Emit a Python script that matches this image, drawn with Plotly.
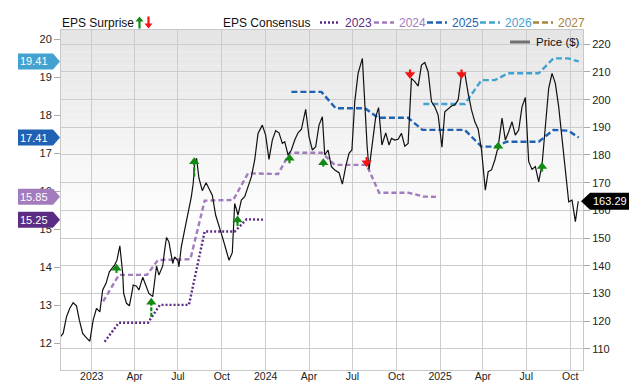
import plotly.graph_objects as go

# ---------------- data ----------------
price_dates = ["2022-10-27","2022-11-02","2022-11-09","2022-11-16","2022-11-23","2022-11-30","2022-12-06","2022-12-13","2022-12-21","2022-12-28",
"2023-01-04","2023-01-11","2023-01-18","2023-01-24","2023-01-31","2023-02-07","2023-02-14","2023-02-18","2023-02-23","2023-03-01",
"2023-03-07","2023-03-09","2023-03-15","2023-03-21","2023-03-26","2023-03-29","2023-04-05","2023-04-10","2023-04-18","2023-04-25",
"2023-05-01","2023-05-09","2023-05-13","2023-05-17","2023-05-22","2023-05-30","2023-06-03","2023-06-07","2023-06-12","2023-06-20",
"2023-06-24","2023-07-01","2023-07-03","2023-07-08","2023-07-15","2023-07-22","2023-07-29","2023-08-02","2023-08-05","2023-08-09",
"2023-08-14","2023-08-21","2023-08-29","2023-09-04","2023-09-11","2023-09-18","2023-09-25","2023-10-02","2023-10-09","2023-10-16",
"2023-10-23","2023-10-28","2023-11-04","2023-11-11","2023-11-18","2023-11-25","2023-12-02","2023-12-09","2023-12-16","2023-12-25",
"2024-01-01","2024-01-08","2024-01-15","2024-01-22","2024-01-29","2024-02-05","2024-02-10","2024-02-17","2024-02-24","2024-03-02",
"2024-03-09","2024-03-16","2024-03-25","2024-04-01","2024-04-08","2024-04-15","2024-04-22","2024-04-29","2024-05-04","2024-05-11",
"2024-05-18","2024-05-25","2024-06-03","2024-06-10","2024-06-17","2024-06-24","2024-06-30","2024-07-06","2024-07-13","2024-07-22",
"2024-07-27","2024-08-01","2024-08-05","2024-08-12","2024-08-19","2024-08-25","2024-09-01","2024-09-09","2024-09-16","2024-09-21",
"2024-09-28","2024-10-05","2024-10-12","2024-10-19","2024-10-26","2024-11-02","2024-11-09","2024-11-16","2024-11-23","2024-11-30",
"2024-12-07","2024-12-14","2024-12-21","2024-12-28","2025-01-05","2025-01-11","2025-01-18","2025-01-25","2025-02-01","2025-02-08",
"2025-02-15","2025-02-22","2025-03-01","2025-03-08","2025-03-15","2025-03-22","2025-03-29","2025-04-06","2025-04-12","2025-04-19",
"2025-04-26","2025-05-03","2025-05-11","2025-05-18","2025-05-25","2025-06-01","2025-06-08","2025-06-15","2025-06-22","2025-06-29",
"2025-07-06","2025-07-13","2025-07-20","2025-07-27","2025-08-03","2025-08-10","2025-08-17","2025-08-24","2025-08-31","2025-09-07",
"2025-09-14","2025-09-21","2025-09-28","2025-10-05","2025-10-12","2025-10-18"]
price_values = [114.3,115.5,121.5,124.6,126.6,125.5,120.3,115.5,113.9,112.7,
120.3,124.6,123.3,131.2,133.6,137.8,139.4,140.2,142.0,147.2,
137.2,130.0,126.4,125.5,130.0,133.0,132.6,131.2,135.8,132.4,
130.0,128.8,135.4,139.9,136.6,139.9,145.6,150.2,148.6,140.8,
143.2,141.8,139.6,146.8,152.9,158.3,164.9,169.8,177.0,178.8,
171.6,167.1,170.0,167.9,165.5,158.3,154.7,150.5,146.3,142.0,
144.7,162.5,158.3,163.7,164.9,168.5,172.1,178.2,187.8,190.8,
187.2,178.4,185.4,188.8,188.0,184.2,184.8,180.0,181.8,185.4,
188.0,189.3,196.5,186.6,181.8,183.0,190.8,193.8,180.0,181.8,
175.8,174.6,173.6,169.5,175.8,180.6,181.8,199.3,209.5,214.9,
197.4,183.0,174.8,185.4,193.8,197.1,183.6,188.0,183.6,186.0,
185.4,185.7,187.8,183.2,184.2,207.7,206.5,204.9,212.5,213.4,
210.1,199.3,197.4,194.4,182.8,195.6,196.5,197.7,198.1,199.9,
208.9,209.5,202.3,196.3,192.0,189.3,181.8,167.3,174.0,174.6,
178.2,183.0,193.3,185.4,188.4,192.0,187.2,189.0,197.4,200.8,
177.6,174.8,175.8,170.3,176.4,192.0,204.1,209.5,205.9,197.4,
186.6,175.2,163.1,163.7,155.9,163.29]

c2023_dates = ["2023-01-28","2023-02-27","2023-04-29","2023-05-24","2023-07-24","2023-08-26","2023-10-28","2023-11-22","2023-12-27"]
c2023_vals = [12.04,12.54,12.54,13.01,13.01,14.94,14.94,15.26,15.25]

c2024_dates = ["2023-01-25","2023-02-27","2023-04-27","2023-05-20","2023-07-27","2023-08-26","2023-10-25","2023-11-25",
               "2024-01-27","2024-02-21","2024-04-28","2024-05-25","2024-07-31","2024-08-26","2024-10-26","2024-11-27","2024-12-25"]
c2024_vals = [13.10,13.80,13.80,14.19,14.21,15.75,15.77,16.47,16.45,17.01,17.01,16.69,16.69,15.96,15.96,15.86,15.85]

c2025_dates = ["2024-02-24","2024-04-27","2024-05-27","2024-07-27","2024-08-24","2024-10-26","2024-11-25","2025-02-22",
               "2025-03-29","2025-04-26","2025-05-21","2025-07-27","2025-08-27","2025-09-27","2025-10-19"]
c2025_vals = [18.61,18.61,18.18,18.18,17.93,17.93,17.61,17.61,17.17,17.17,17.30,17.30,17.61,17.59,17.41]

c2026_dates = ["2024-11-27","2025-02-22","2025-03-29","2025-04-26","2025-05-24","2025-07-27","2025-08-27","2025-09-27","2025-10-19"]
c2026_vals = [18.29,18.29,18.92,18.92,19.10,19.10,19.49,19.49,19.41]

surprise_dates = ["2023-02-22","2023-05-06","2023-08-04","2023-11-03","2024-02-20","2024-05-01",
                  "2024-07-31","2024-10-30","2025-02-15","2025-05-03","2025-08-03"]
surprise_dir = ["up","up","up","up","up","up","down","down","down","up","up"]
surprise_head = [139.1,126.8,177.6,156.5,178.8,177.2,177.2,209.1,209.1,183.2,175.8]
surprise_tail = [137.4,121.5,172.1,154.3,177.0,175.8,179.3,210.9,210.9,181.8,174.0]

tick_dates = ["2023-01-01","2023-04-01","2023-07-01","2023-10-01","2024-01-01","2024-04-01",
              "2024-07-01","2024-10-01","2025-01-01","2025-04-01","2025-07-01","2025-10-01"]
tick_labels = ["2023","Apr","Jul","Oct","2024","Apr","Jul","Oct","2025","Apr","Jul","Oct"]

years = ["2023","2024","2025","2026","2027"]
year_colors = ["#5b2c84","#a27cbd","#1f62b3","#43a2d0","#a8843f"]
year_dash = ["2px,2px","5px,3px","6px,3px","6px,3px","6px,3px"]

FONT = "Liberation Sans, Arial, sans-serif"
GREEN = "#138a13"
RED = "#f01414"

fig = go.Figure()

# consensus lines (left axis)
cons = [(c2023_dates, c2023_vals), (c2024_dates, c2024_vals), (c2025_dates, c2025_vals), (c2026_dates, c2026_vals)]
for i, (d, v) in enumerate(cons):
    fig.add_trace(go.Scatter(x=d, y=v, mode="lines", yaxis="y", showlegend=False, hoverinfo="skip",
                             line=dict(color=year_colors[i], width=2.4, dash=year_dash[i])))

# price (right axis)
fig.add_trace(go.Scatter(x=price_dates, y=price_values, mode="lines", yaxis="y2", showlegend=False,
                         line=dict(color="#111111", width=1.2)))

# surprise arrows
for direction, col, sym in [("up", GREEN, "triangle-up"), ("down", RED, "triangle-down")]:
    sx, sy, hx, hy = [], [], [], []
    for d, dr, h, t in zip(surprise_dates, surprise_dir, surprise_head, surprise_tail):
        if dr != direction:
            continue
        sx += [d, d, None]
        sy += [t, h, None]
        hx.append(d)
        hy.append(h)
    fig.add_trace(go.Scatter(x=sx, y=sy, mode="lines", yaxis="y2", showlegend=False, hoverinfo="skip",
                             line=dict(color=col, width=2.2, dash="4px,1.5px")))
    fig.add_trace(go.Scatter(x=hx, y=hy, mode="markers", yaxis="y2", showlegend=False, hoverinfo="skip",
                             marker=dict(symbol=sym, size=9, color=col, line=dict(width=0))))

shapes = []
annotations = []

# background gradient bands (top grey fading to white)
nb = 28
top, bot = 1.0, 0.42
for k in range(nb):
    y1 = top - (top - bot) * k / nb
    y0 = top - (top - bot) * (k + 1) / nb
    c = int(229 + (255 - 229) * (k + 0.5) / nb)
    shapes.append(dict(type="rect", xref="paper", yref="paper", x0=0, x1=1, y0=y0, y1=y1,
                       fillcolor=f"rgb({c},{c},{c})", line=dict(width=0), layer="below"))

# left value tags for consensus
for i, (d, v) in enumerate(cons):
    val = v[-1]
    shapes.append(dict(type="path", xref="paper", yref="y", xsizemode="pixel", ysizemode="pixel",
                       xanchor=0, yanchor=val, path="M -43,-8 L -8,-8 L -1,0 L -8,8 L -43,8 Z",
                       fillcolor=year_colors[i], line=dict(width=0), layer="above"))
    annotations.append(dict(xref="paper", yref="y", x=0, y=val, text=f"{val:.2f}", showarrow=False,
                            xanchor="center", yanchor="middle", xshift=-27.5,
                            font=dict(family=FONT, size=11, color="white")))

# right price tag
last_price = price_values[-1]
shapes.append(dict(type="path", xref="paper", yref="y2", xsizemode="pixel", ysizemode="pixel",
                   xanchor=1, yanchor=last_price, path="M -2,0 L 7,-8.5 L 46,-8.5 L 46,8.5 L 7,8.5 Z",
                   fillcolor="#000000", line=dict(width=0), layer="above"))
annotations.append(dict(xref="paper", yref="y2", x=1, y=last_price, text=f"{last_price:.2f}", showarrow=False,
                        xanchor="center", yanchor="middle", xshift=26.5,
                        font=dict(family=FONT, size=11, color="white")))

# top legend row (manual)
W, H, L, T = 640, 382, 61, 30
PW, PH = 522, 340
def px(x):
    return (x - L) / PW
def py(y):
    return (T + PH - y) / PH

ly = 22.5
annotations.append(dict(xref="paper", yref="paper", x=px(60), y=py(ly), text="EPS Surprise", showarrow=False,
                        xanchor="left", yanchor="middle", font=dict(family=FONT, size=12, color="#111")))
annotations.append(dict(xref="paper", yref="paper", x=px(221), y=py(ly), text="EPS Consensus", showarrow=False,
                        xanchor="left", yanchor="middle", font=dict(family=FONT, size=12, color="#111")))
# legend arrows
shapes.append(dict(type="path", xref="paper", yref="paper", xsizemode="pixel", ysizemode="pixel",
                   xanchor=px(139.5), yanchor=py(ly),
                   path="M -4,1 L 0,6 L 4,1 Z M -1.1,1 L 1.1,1 L 1.1,-6 L -1.1,-6 Z",
                   fillcolor=GREEN, line=dict(width=0)))
shapes.append(dict(type="path", xref="paper", yref="paper", xsizemode="pixel", ysizemode="pixel",
                   xanchor=px(148.5), yanchor=py(ly),
                   path="M -4,-1 L 0,-6 L 4,-1 Z M -1.1,-1 L 1.1,-1 L 1.1,6 L -1.1,6 Z",
                   fillcolor=RED, line=dict(width=0)))
line_x = [320, 374, 427, 480, 533]
for i, yr in enumerate(years):
    x0 = line_x[i]
    shapes.append(dict(type="line", xref="paper", yref="paper", x0=px(x0), x1=px(x0 + 20), y0=py(ly), y1=py(ly),
                       line=dict(color=year_colors[i], width=2.4, dash=year_dash[i])))
    annotations.append(dict(xref="paper", yref="paper", x=px(x0 + 23), y=py(ly), text=yr, showarrow=False,
                            xanchor="left", yanchor="middle",
                            font=dict(family=FONT, size=12, color=year_colors[i])))

# price legend inside plot
shapes.append(dict(type="line", xref="paper", yref="paper", x0=px(510), x1=px(530), y0=py(42), y1=py(42),
                   line=dict(color="#707070", width=3)))
annotations.append(dict(xref="paper", yref="paper", x=px(534), y=py(42), text="Price ($)", showarrow=False,
                        xanchor="left", yanchor="middle", font=dict(family=FONT, size=11.5, color="#111")))

fig.update_layout(
    width=W, height=H,
    margin=dict(l=L, r=W - L - PW, t=T, b=H - T - PH, autoexpand=False),
    paper_bgcolor="white", plot_bgcolor="rgba(0,0,0,0)",
    font=dict(family=FONT, size=11, color="#222"),
    showlegend=False,
    shapes=shapes, annotations=annotations,
    xaxis=dict(type="date", range=["2022-10-28 12:00", "2025-10-28"], tickvals=tick_dates, ticktext=tick_labels,
               showgrid=True, gridcolor="#cccccc", gridwidth=1, ticks="", showline=True, mirror=True,
               linecolor="#c8c8c8", zeroline=False, tickfont=dict(size=10.5, color="#222"), automargin=False,
               ticklabelstandoff=-4),
    yaxis=dict(range=[11.298, 20.237], tickvals=list(range(12, 21)), showgrid=False, zeroline=False,
               ticks="outside", ticklen=6, tickcolor="#aaaaaa", showline=True, mirror=True, linecolor="#c8c8c8",
               tickfont=dict(size=11, color="#222"), automargin=False),
    yaxis2=dict(range=[102.3, 225.17], dtick=10, tick0=110, overlaying="y", side="right", showgrid=True,
                gridcolor="#cccccc", zeroline=False, ticks="outside", ticklen=6, tickcolor="#aaaaaa",
                tickfont=dict(size=11, color="#222"), automargin=False),
)

fig.write_html("out.html")
